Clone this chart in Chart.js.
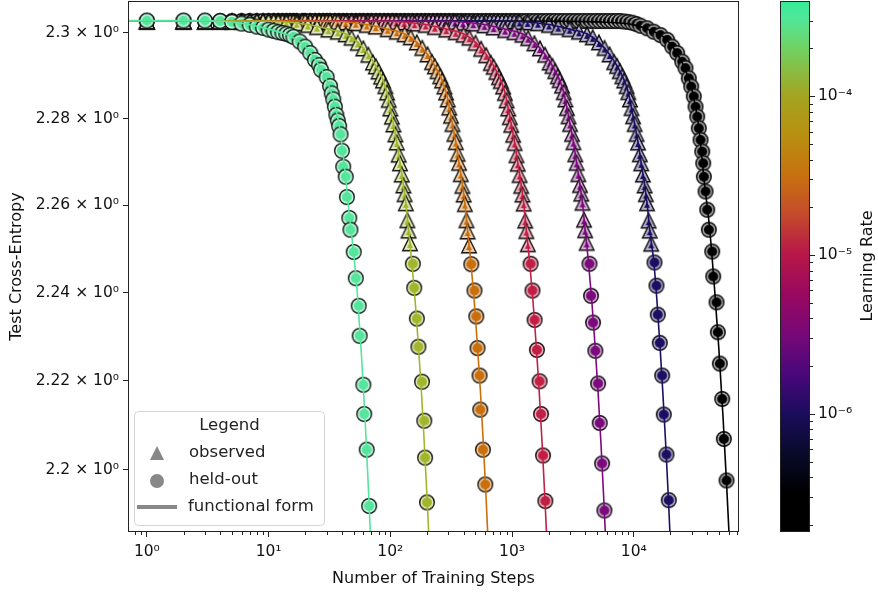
<!DOCTYPE html>
<html>
<head>
<meta charset="utf-8">
<title>Test cross-entropy vs training steps</title>
<script src="https://cdn.jsdelivr.net/npm/chart.js@4.4.1/dist/chart.umd.min.js"></script>
<style>
  html, body { margin: 0; padding: 0; background: #ffffff; }
  .stage { position: relative; width: 878px; height: 592px; }
  .stage canvas { position: absolute; top: 0; }
</style>
</head>
<body>
<div class="stage">
  <canvas class="js-chart" width="878" height="592" style="left:0"></canvas>
  <canvas class="js-colorbar" width="138" height="592" style="left:740px"></canvas>
</div>
<script>
// axes
const xTickValues = [1, 10, 100, 1000, 10000];
const xTickLabels = ['10⁰', '10¹', '10²', '10³', '10⁴'];
const xMinorTicks = [0.8, 0.9, 2, 3, 4, 5, 6, 7, 8, 9, 20, 30, 40, 50, 60, 70, 80, 90,
  200, 300, 400, 500, 600, 700, 800, 900, 2000, 3000, 4000, 5000, 6000, 7000, 8000, 9000,
  20000, 30000, 40000, 50000, 60000, 70000];
const yTickValues = [2.2, 2.22, 2.24, 2.26, 2.28, 2.3];
const yTickLabels = ['2.2 × 10⁰', '2.22 × 10⁰', '2.24 × 10⁰', '2.26 × 10⁰', '2.28 × 10⁰', '2.3 × 10⁰'];
const cbTickValues = [1e-6, 1e-5, 1e-4];
const cbTickLabels = ['10⁻⁶', '10⁻⁵', '10⁻⁴'];
const cbMinorTicks = [2e-7, 3e-7, 4e-7, 5e-7, 6e-7, 7e-7, 8e-7, 9e-7, 2e-6, 3e-6, 4e-6, 5e-6, 6e-6, 7e-6, 8e-6, 9e-6,
  2e-5, 3e-5, 4e-5, 5e-5, 6e-5, 7e-5, 8e-5, 9e-5, 2e-4, 3e-4];
const cbMin = 1.81e-7;
const cbMax = 3.98e-4;
const learningRates = [3.16e-4, 1e-4, 3.16e-5, 1e-5, 3.16e-6, 1e-6, 3.16e-7];

// lr 3.16e-4 (all held-out)
const greenHeldSteps = [1, 2, 3, 4, 5, 6, 7, 8, 9, 10, 11, 12, 13, 14, 15, 16, 18, 20, 22, 24, 26, 27, 30, 32, 33,
  34, 35, 36, 37, 38, 39, 40, 41, 43, 44, 46, 47, 50, 52, 55, 56, 60, 61, 64, 67];
const greenHeldLoss = [2.3029, 2.3029, 2.3029, 2.3028, 2.3026, 2.3022, 2.3019, 2.3015, 2.3012, 2.3008, 2.3005, 2.3002,
  2.3000, 2.2998, 2.2995, 2.2991, 2.2980, 2.2968, 2.2953, 2.2937, 2.2925, 2.2914, 2.2897, 2.2876, 2.2859,
  2.2845, 2.2828, 2.2809, 2.2796, 2.2783, 2.2764, 2.2726, 2.2689, 2.2666, 2.2619, 2.2571, 2.2544, 2.2493,
  2.2433, 2.2370, 2.2302, 2.2191, 2.2125, 2.2045, 2.1919];
const greenFitSteps = [0.5, 3, 6, 10, 15, 20, 25, 30, 34, 38, 42, 46, 50, 54, 58, 62, 66, 70];
const greenFitLoss = [2.3029, 2.3029, 2.3023, 2.3009, 2.2993, 2.2968, 2.2932, 2.2890, 2.2846, 2.2785, 2.2690,
  2.2580, 2.2490, 2.2385, 2.2255, 2.2115, 2.1960, 2.1800];

// lr 1e-4
const yellowObsSteps = [1, 2, 3, 4, 5, 6, 7, 8, 9, 10,
  11, 12, 14, 17, 21, 25, 31, 37, 43, 48,
  54, 60, 66, 72, 76, 80, 84, 87, 91, 94,
  97, 100, 103, 106, 110, 113, 117, 120, 124, 128,
  131, 134, 138, 141, 145];
const yellowObsLoss = [2.3028, 2.3028, 2.3028, 2.3028, 2.3028, 2.3028, 2.3028, 2.3028, 2.3028, 2.3028,
  2.3028, 2.3027, 2.3026, 2.3024, 2.3020, 2.3015, 2.3009, 2.3004, 2.2998, 2.2990,
  2.2978, 2.2965, 2.2950, 2.2932, 2.2923, 2.2911, 2.2899, 2.2890, 2.2877, 2.2862,
  2.2845, 2.2825, 2.2806, 2.2788, 2.2765, 2.2746, 2.2718, 2.2698, 2.2672, 2.2647,
  2.2627, 2.2606, 2.2567, 2.2543, 2.2514];
const yellowHeldSteps = [153, 157, 165, 170, 182, 190, 193, 200];
const yellowHeldLoss = [2.2466, 2.2411, 2.2341, 2.2277, 2.2198, 2.2110, 2.2027, 2.1927];
const yellowFitSteps = [0.5, 5, 12, 21, 31, 43, 54, 66, 76, 87, 94, 100, 106, 113, 120, 128, 134, 141, 150, 160,
  170, 180, 190, 200, 206, 214];
const yellowFitLoss = [2.3028, 2.3028, 2.3027, 2.3020, 2.3009, 2.2998, 2.2978, 2.2950, 2.2923, 2.2890, 2.2862,
  2.2825, 2.2788, 2.2746, 2.2698, 2.2647, 2.2606, 2.2543, 2.2470, 2.2380, 2.2280, 2.2175, 2.2060, 2.1940,
  2.1865, 2.1760];

// lr 3.16e-5
const orangeObsSteps = [1, 2, 3, 4, 5, 6, 7, 8, 9, 10,
  11, 12, 13, 14, 15, 16, 17, 19, 20, 22,
  24, 26, 28, 30, 32, 35, 37, 43, 52, 64,
  76, 95, 113, 131, 147, 165, 183, 202, 220, 232,
  244, 257, 266, 278, 287, 296, 305, 315, 324, 336,
  345, 357, 367, 379, 391, 400, 409, 422, 431, 443];
const orangeObsLoss = [2.3028, 2.3028, 2.3028, 2.3028, 2.3028, 2.3028, 2.3028, 2.3028, 2.3028, 2.3028,
  2.3028, 2.3028, 2.3028, 2.3028, 2.3028, 2.3028, 2.3028, 2.3028, 2.3028, 2.3028,
  2.3028, 2.3028, 2.3028, 2.3028, 2.3028, 2.3028, 2.3027, 2.3026, 2.3024, 2.3020,
  2.3016, 2.3010, 2.3004, 2.2998, 2.2991, 2.2979, 2.2966, 2.2951, 2.2933, 2.2923,
  2.2912, 2.2900, 2.2890, 2.2876, 2.2862, 2.2846, 2.2827, 2.2808, 2.2789, 2.2766,
  2.2747, 2.2720, 2.2699, 2.2673, 2.2646, 2.2626, 2.2604, 2.2567, 2.2541, 2.2509];
const orangeHeldSteps = [462, 491, 508, 520, 540, 548, 576, 602];
const orangeHeldLoss = [2.2465, 2.2405, 2.2346, 2.2274, 2.2212, 2.2135, 2.2045, 2.1967];
const orangeFitSteps = [0.5, 15, 37, 64, 95, 131, 165, 202, 232, 266, 287, 306, 324, 345, 367, 391, 409, 431, 458,
  489, 519, 550, 580, 611, 629, 654];
const orangeFitLoss = [2.3028, 2.3028, 2.3027, 2.3020, 2.3009, 2.2998, 2.2978, 2.2950, 2.2923, 2.2890, 2.2862,
  2.2825, 2.2788, 2.2746, 2.2698, 2.2647, 2.2606, 2.2543, 2.2470, 2.2380, 2.2280, 2.2175, 2.2060, 2.1940,
  2.1865, 2.1760];

// lr 1e-5
const redObsSteps = [1, 2, 3, 4, 5, 6, 7, 8, 9, 10,
  11, 12, 13, 14, 15, 16, 17, 19, 20, 22,
  24, 26, 28, 30, 32, 35, 38, 41, 44, 48,
  52, 56, 60, 65, 70, 76, 82, 89, 96, 104,
  112, 130, 158, 195, 232, 288, 344, 399, 446, 501,
  557, 613, 669, 706, 743, 780, 808, 845, 873, 901,
  929, 957, 984, 1021, 1049, 1086, 1114, 1152, 1189, 1217,
  1244, 1282, 1309, 1347];
const redObsLoss = [2.3028, 2.3028, 2.3028, 2.3028, 2.3028, 2.3028, 2.3028, 2.3028, 2.3028, 2.3028,
  2.3028, 2.3028, 2.3028, 2.3028, 2.3028, 2.3028, 2.3028, 2.3028, 2.3028, 2.3028,
  2.3028, 2.3028, 2.3028, 2.3028, 2.3028, 2.3028, 2.3028, 2.3028, 2.3028, 2.3028,
  2.3028, 2.3028, 2.3028, 2.3028, 2.3028, 2.3028, 2.3028, 2.3028, 2.3028, 2.3028,
  2.3027, 2.3026, 2.3023, 2.3020, 2.3015, 2.3009, 2.3003, 2.2997, 2.2990, 2.2978,
  2.2964, 2.2949, 2.2931, 2.2922, 2.2910, 2.2898, 2.2889, 2.2876, 2.2861, 2.2844,
  2.2825, 2.2805, 2.2787, 2.2764, 2.2745, 2.2717, 2.2697, 2.2671, 2.2646, 2.2626,
  2.2605, 2.2566, 2.2542, 2.2512];
const redHeldSteps = [1420, 1470, 1530, 1600, 1683, 1729, 1795, 1875];
const redHeldLoss = [2.2466, 2.2405, 2.2338, 2.2270, 2.2199, 2.2125, 2.2032, 2.1930];
const redFitSteps = [0.5, 46, 111, 195, 288, 399, 501, 613, 706, 808, 873, 929, 984, 1049, 1114, 1189, 1244, 1309,
  1393, 1486, 1579, 1671, 1764, 1857, 1913, 1987];
const redFitLoss = [2.3028, 2.3028, 2.3027, 2.3020, 2.3009, 2.2998, 2.2978, 2.2950, 2.2923, 2.2890, 2.2862,
  2.2825, 2.2788, 2.2746, 2.2698, 2.2647, 2.2606, 2.2543, 2.2470, 2.2380, 2.2280, 2.2175, 2.2060, 2.1940,
  2.1865, 2.1760];

// lr 3.16e-6
const purpleObsSteps = [1, 2, 3, 4, 5, 6, 7, 8, 9, 10,
  11, 12, 13, 14, 15, 16, 17, 19, 20, 22,
  24, 26, 28, 30, 32, 35, 38, 41, 44, 48,
  52, 56, 60, 65, 70, 76, 82, 89, 96, 104,
  112, 121, 131, 141, 152, 165, 178, 192, 207, 224,
  242, 261, 282, 305, 329, 339, 395, 480, 593, 706,
  876, 1045, 1215, 1356, 1525, 1695, 1865, 2034, 2147, 2260,
  2373, 2458, 2571, 2655, 2740, 2825, 2910, 2995, 3107, 3192,
  3305, 3390, 3503, 3616, 3701, 3785, 3899, 3983, 4096];
const purpleObsLoss = [2.3028, 2.3028, 2.3028, 2.3028, 2.3028, 2.3028, 2.3028, 2.3028, 2.3028, 2.3028,
  2.3028, 2.3028, 2.3028, 2.3028, 2.3028, 2.3028, 2.3028, 2.3028, 2.3028, 2.3028,
  2.3028, 2.3028, 2.3028, 2.3028, 2.3028, 2.3028, 2.3028, 2.3028, 2.3028, 2.3028,
  2.3028, 2.3028, 2.3028, 2.3028, 2.3028, 2.3028, 2.3028, 2.3028, 2.3028, 2.3028,
  2.3028, 2.3028, 2.3028, 2.3028, 2.3028, 2.3028, 2.3028, 2.3028, 2.3028, 2.3028,
  2.3028, 2.3028, 2.3028, 2.3028, 2.3028, 2.3027, 2.3025, 2.3023, 2.3019, 2.3014,
  2.3008, 2.3003, 2.2997, 2.2989, 2.2977, 2.2965, 2.2950, 2.2932, 2.2924, 2.2912,
  2.2900, 2.2891, 2.2878, 2.2863, 2.2846, 2.2826, 2.2807, 2.2789, 2.2766, 2.2747,
  2.2719, 2.2699, 2.2673, 2.2648, 2.2628, 2.2607, 2.2568, 2.2544, 2.2515];
const purpleHeldSteps = [4320, 4450, 4625, 4830, 5087, 5244, 5488, 5731];
const purpleHeldLoss = [2.2466, 2.2393, 2.2332, 2.2268, 2.2194, 2.2105, 2.2014, 2.1909];
const purpleFitSteps = [0.5, 141, 339, 593, 876, 1215, 1526, 1865, 2147, 2458, 2656, 2825, 2995, 3192, 3390, 3616,
  3786, 3983, 4238, 4520, 4803, 5085, 5368, 5650, 5820, 6046];
const purpleFitLoss = [2.3028, 2.3028, 2.3027, 2.3020, 2.3009, 2.2998, 2.2978, 2.2950, 2.2923, 2.2890, 2.2862,
  2.2825, 2.2788, 2.2746, 2.2698, 2.2647, 2.2606, 2.2543, 2.2470, 2.2380, 2.2280, 2.2175, 2.2060, 2.1940,
  2.1865, 2.1760];

// lr 1e-6
const navyObsSteps = [1, 2, 3, 4, 5, 6, 7, 8, 9, 10,
  11, 12, 13, 14, 15, 16, 17, 19, 20, 22,
  24, 26, 28, 30, 32, 35, 38, 41, 44, 48,
  52, 56, 60, 65, 70, 76, 82, 89, 96, 104,
  112, 121, 131, 141, 152, 165, 178, 192, 207, 224,
  242, 261, 282, 305, 329, 355, 384, 414, 447, 483,
  522, 563, 608, 657, 709, 766, 827, 893, 965, 1042,
  1125, 1151, 1341, 1629, 2011, 2395, 2969, 3544, 4120, 4598,
  5172, 5749, 6323, 6897, 7281, 7664, 8048, 8334, 8718, 9004,
  9292, 9581, 9867, 10155, 10537, 10825, 11207, 11495, 11880, 12262,
  12550, 12836, 13220, 13506, 13891];
const navyObsLoss = [2.3028, 2.3028, 2.3028, 2.3028, 2.3028, 2.3028, 2.3028, 2.3028, 2.3028, 2.3028,
  2.3028, 2.3028, 2.3028, 2.3028, 2.3028, 2.3028, 2.3028, 2.3028, 2.3028, 2.3028,
  2.3028, 2.3028, 2.3028, 2.3028, 2.3028, 2.3028, 2.3028, 2.3028, 2.3028, 2.3028,
  2.3028, 2.3028, 2.3028, 2.3028, 2.3028, 2.3028, 2.3028, 2.3028, 2.3028, 2.3028,
  2.3028, 2.3028, 2.3028, 2.3028, 2.3028, 2.3028, 2.3028, 2.3028, 2.3028, 2.3028,
  2.3028, 2.3028, 2.3028, 2.3028, 2.3028, 2.3028, 2.3028, 2.3028, 2.3028, 2.3028,
  2.3028, 2.3028, 2.3028, 2.3028, 2.3028, 2.3028, 2.3028, 2.3028, 2.3028, 2.3028,
  2.3028, 2.3027, 2.3026, 2.3024, 2.3020, 2.3015, 2.3010, 2.3004, 2.2998, 2.2991,
  2.2979, 2.2966, 2.2951, 2.2933, 2.2924, 2.2912, 2.2900, 2.2890, 2.2877, 2.2863,
  2.2846, 2.2826, 2.2807, 2.2789, 2.2766, 2.2746, 2.2719, 2.2698, 2.2672, 2.2647,
  2.2627, 2.2606, 2.2566, 2.2543, 2.2513];
const navyHeldSteps = [14772, 15345, 15727, 16332, 17087, 17618, 18541, 19364];
const navyHeldLoss = [2.2469, 2.2416, 2.2350, 2.2286, 2.2212, 2.2124, 2.2034, 2.1932];
const navyFitSteps = [0.5, 479, 1150, 2012, 2970, 4119, 5173, 6323, 7281, 8335, 9005, 9580, 10155, 10825, 11496,
  12262, 12837, 13508, 14600, 15500, 16400, 17300, 18250, 19200, 19750, 20500];
const navyFitLoss = [2.3028, 2.3028, 2.3027, 2.3020, 2.3009, 2.2998, 2.2978, 2.2950, 2.2923, 2.2890, 2.2862,
  2.2825, 2.2788, 2.2746, 2.2698, 2.2647, 2.2606, 2.2543, 2.2470, 2.2380, 2.2280, 2.2175, 2.2060, 2.1940,
  2.1865, 2.1760];

// lr 3.16e-7 (all held-out)
const blackHeldSteps = [1, 2, 3, 4, 5, 6, 7, 8, 9, 10,
  11, 12, 13, 14, 15, 16, 17, 19, 20, 22,
  24, 26, 28, 30, 32, 35, 38, 41, 44, 48,
  52, 56, 60, 65, 70, 76, 82, 89, 96, 104,
  112, 121, 131, 141, 152, 165, 178, 192, 207, 224,
  242, 261, 282, 305, 329, 355, 384, 414, 447, 483,
  522, 563, 608, 657, 709, 766, 827, 893, 965, 1042,
  1125, 1215, 1312, 1417, 1531, 1653, 1785, 1928, 2082, 2249,
  2429, 2623, 2833, 3060, 3305, 3569, 3855, 4163, 4496, 4856,
  5244, 5664, 6117, 6606, 7135, 7706, 8322, 8988, 9707, 10483,
  11322, 12865, 14578, 16554, 18792, 20654, 22708, 24963, 26567, 28286,
  29602, 31093, 32112, 33163, 34181, 35300, 36457, 37153, 37575, 38805,
  40076, 41305, 44055, 44896, 47785, 48975, 50859, 53229, 54862, 57734];
const blackHeldLoss = [2.3028, 2.3028, 2.3028, 2.3028, 2.3028, 2.3028, 2.3028, 2.3028, 2.3028, 2.3028,
  2.3028, 2.3028, 2.3028, 2.3028, 2.3028, 2.3028, 2.3028, 2.3028, 2.3028, 2.3028,
  2.3028, 2.3028, 2.3028, 2.3028, 2.3028, 2.3028, 2.3028, 2.3028, 2.3028, 2.3028,
  2.3028, 2.3028, 2.3028, 2.3028, 2.3028, 2.3028, 2.3028, 2.3028, 2.3028, 2.3028,
  2.3028, 2.3028, 2.3028, 2.3028, 2.3028, 2.3028, 2.3028, 2.3028, 2.3028, 2.3028,
  2.3028, 2.3028, 2.3028, 2.3028, 2.3028, 2.3028, 2.3028, 2.3028, 2.3028, 2.3028,
  2.3028, 2.3028, 2.3028, 2.3028, 2.3028, 2.3028, 2.3028, 2.3028, 2.3028, 2.3028,
  2.3028, 2.3028, 2.3028, 2.3028, 2.3028, 2.3028, 2.3028, 2.3028, 2.3028, 2.3028,
  2.3028, 2.3028, 2.3028, 2.3028, 2.3028, 2.3028, 2.3028, 2.3028, 2.3028, 2.3028,
  2.3028, 2.3028, 2.3028, 2.3028, 2.3028, 2.3028, 2.3027, 2.3026, 2.3024, 2.3021,
  2.3017, 2.3011, 2.3003, 2.2995, 2.2984, 2.2968, 2.2953, 2.2933, 2.2918, 2.2894,
  2.2875, 2.2852, 2.2828, 2.2805, 2.2778, 2.2751, 2.2724, 2.2697, 2.2666, 2.2632,
  2.2590, 2.2544, 2.2494, 2.2437, 2.2378, 2.2310, 2.2239, 2.2159, 2.2069, 2.1976];
const blackFitSteps = [0.5, 1000, 5000, 10000, 14000, 18000, 22000, 26000, 30000, 34000, 38000, 42000, 46000,
  50000, 54000, 58000, 62000];
const blackFitLoss = [2.3028, 2.3028, 2.3026, 2.3019, 2.3005, 2.2988, 2.2958, 2.2920, 2.2868, 2.2785, 2.2652,
  2.2545, 2.2410, 2.2270, 2.2120, 2.1960, 2.1800];

// styles
const curveColors = ['#55e59c', '#a2b62c', '#c96f0c', '#c21f44', '#7b0a7d', '#1b0f62', '#000000'];
const cmapStops = [
  [0.000, '#000000'], [0.073, '#000000'], [0.145, '#080a28'], [0.222, '#1a0c5c'], [0.296, '#48087a'],
  [0.373, '#780878'], [0.446, '#980860'], [0.525, '#b81848'], [0.597, '#c44a2c'], [0.670, '#c87010'],
  [0.748, '#b89010'], [0.821, '#a4a420'], [0.908, '#72d060'], [0.970, '#4ee89c'], [1.000, '#34ec96']
];

Chart.defaults.font.family = "'DejaVu Sans', sans-serif";
Chart.defaults.color = '#111';

const zip = (xs, ys) => xs.map((x, i) => ({ x, y: ys[i] }));

function makeMarker(shape, color) {
  const c = document.createElement('canvas');
  c.width = 22;
  c.height = 22;
  const g = c.getContext('2d');
  const cx = 11, cy = 11, s0 = 8.4;
  const path = (inset) => {
    g.beginPath();
    if (shape === 'circle') {
      g.arc(cx, cy, 8 - inset, 0, Math.PI * 2);
    } else {
      // inset measured from the incentre so the ring is even on all sides
      const iy = cy + 0.382 * s0, r0 = 0.618 * s0, k = (r0 - inset) / r0;
      [[0, -s0], [s0, s0], [-s0, s0]].forEach(([x, y], i) => {
        const px = cx + x * k, py = iy + (cy + y - iy) * k;
        i ? g.lineTo(px, py) : g.moveTo(px, py);
      });
      g.closePath();
    }
  };
  g.lineJoin = 'miter';
  path(0.6);
  g.fillStyle = color;
  g.fill();
  path(shape === 'circle' ? 2.15 : 2.3);
  g.strokeStyle = 'rgba(255,255,255,0.68)';
  g.lineWidth = shape === 'circle' ? 1.7 : 2.1;
  g.stroke();
  path(0.65);
  g.strokeStyle = '#111';
  g.lineWidth = 1.3;
  g.stroke();
  return c;
}

const curves = [
  { obsSteps: [], obsLoss: [], heldSteps: greenHeldSteps, heldLoss: greenHeldLoss, fitSteps: greenFitSteps, fitLoss: greenFitLoss },
  { obsSteps: yellowObsSteps, obsLoss: yellowObsLoss, heldSteps: yellowHeldSteps, heldLoss: yellowHeldLoss, fitSteps: yellowFitSteps, fitLoss: yellowFitLoss },
  { obsSteps: orangeObsSteps, obsLoss: orangeObsLoss, heldSteps: orangeHeldSteps, heldLoss: orangeHeldLoss, fitSteps: orangeFitSteps, fitLoss: orangeFitLoss },
  { obsSteps: redObsSteps, obsLoss: redObsLoss, heldSteps: redHeldSteps, heldLoss: redHeldLoss, fitSteps: redFitSteps, fitLoss: redFitLoss },
  { obsSteps: purpleObsSteps, obsLoss: purpleObsLoss, heldSteps: purpleHeldSteps, heldLoss: purpleHeldLoss, fitSteps: purpleFitSteps, fitLoss: purpleFitLoss },
  { obsSteps: navyObsSteps, obsLoss: navyObsLoss, heldSteps: navyHeldSteps, heldLoss: navyHeldLoss, fitSteps: navyFitSteps, fitLoss: navyFitLoss },
  { obsSteps: [], obsLoss: [], heldSteps: blackHeldSteps, heldLoss: blackHeldLoss, fitSteps: blackFitSteps, fitLoss: blackFitLoss }
];

// dataset 0 is painted last, so fits go first, then markers with the highest lr on top
const datasets = [];
curves.forEach((c, i) => {
  datasets.push({
    type: 'line',
    label: 'fit ' + learningRates[i],
    data: zip(c.fitSteps, c.fitLoss),
    borderColor: curveColors[i],
    borderWidth: 1.6,
    pointRadius: 0,
    fill: false,
    cubicInterpolationMode: 'monotone'
  });
});
curves.forEach((c, i) => {
  if (c.obsSteps.length) {
    datasets.push({
      label: 'observed ' + learningRates[i],
      data: zip(c.obsSteps, c.obsLoss),
      pointStyle: makeMarker('triangle', curveColors[i]),
      pointRadius: 8,
      showLine: false
    });
  }
  datasets.push({
    label: 'held-out ' + learningRates[i],
    data: zip(c.heldSteps, c.heldLoss),
    pointStyle: makeMarker('circle', curveColors[i]),
    pointRadius: 8,
    showLine: false
  });
});

// keep tick labels from pushing the plot box around
const noPad = s => { s.paddingTop = 0; s.paddingBottom = 0; s.paddingLeft = 0; s.paddingRight = 0; };

const framePlugin = {
  id: 'frame',
  afterDraw(chart) {
    const { ctx, chartArea: a } = chart;
    ctx.save();
    ctx.strokeStyle = '#222';
    ctx.lineWidth = 1;
    ctx.strokeRect(a.left + 0.5, a.top + 0.5, a.right - a.left - 1, a.bottom - a.top - 1);
    ctx.restore();
  }
};

const minorTickPlugin = {
  id: 'minorTicks',
  afterDraw(chart, args, opts) {
    const { ctx } = chart;
    const s = chart.scales[opts.axis];
    ctx.save();
    ctx.strokeStyle = '#222';
    ctx.lineWidth = 1;
    opts.values.forEach(v => {
      const p = Math.round(s.getPixelForValue(v)) + 0.5;
      ctx.beginPath();
      if (s.isHorizontal()) {
        ctx.moveTo(p, s.top);
        ctx.lineTo(p, s.top + opts.len);
      } else {
        ctx.moveTo(s.left, p);
        ctx.lineTo(s.left + opts.len, p);
      }
      ctx.stroke();
    });
    ctx.restore();
  }
};

const legendPlugin = {
  id: 'boxLegend',
  afterDraw(chart) {
    const { ctx } = chart;
    ctx.save();
    ctx.beginPath();
    ctx.roundRect(134.5, 411.5, 190, 114, 4);
    ctx.fillStyle = 'rgba(255,255,255,0.8)';
    ctx.fill();
    ctx.strokeStyle = '#d4d4d4';
    ctx.lineWidth = 1;
    ctx.stroke();

    ctx.fillStyle = '#222';
    ctx.font = "16.5px 'DejaVu Sans'";
    ctx.textBaseline = 'middle';
    ctx.textAlign = 'center';
    ctx.fillText('Legend', 229.5, 426);
    ctx.textAlign = 'left';
    ctx.fillText('observed', 189, 453);
    ctx.fillText('held-out', 189, 480);
    ctx.fillText('functional form', 188, 507);

    ctx.fillStyle = '#888';
    ctx.beginPath();
    ctx.moveTo(157, 446);
    ctx.lineTo(164, 460);
    ctx.lineTo(150, 460);
    ctx.closePath();
    ctx.fill();
    ctx.beginPath();
    ctx.arc(157, 481, 7, 0, Math.PI * 2);
    ctx.fill();
    ctx.strokeStyle = '#888';
    ctx.lineWidth = 4;
    ctx.beginPath();
    ctx.moveTo(137, 507);
    ctx.lineTo(177, 507);
    ctx.stroke();
    ctx.restore();
  }
};

new Chart(document.querySelector('.js-chart'), {
  type: 'scatter',
  data: { datasets },
  options: {
    responsive: false,
    animation: false,
    devicePixelRatio: 1,
    events: [],
    layout: { autoPadding: false, padding: { left: 0, right: 139, top: 1, bottom: 0 } },
    plugins: {
      legend: { display: false },
      tooltip: { enabled: false },
      minorTicks: { axis: 'x', values: xMinorTicks, len: 3 }
    },
    scales: {
      x: {
        type: 'logarithmic',
        min: 0.7,
        max: 73100,
        bounds: 'data',
        afterBuildTicks: s => { s.ticks = xTickValues.map(v => ({ value: v })); },
        afterFit: s => { s.height = 60; noPad(s); },
        grid: { drawOnChartArea: false, drawTicks: true, tickLength: 5, tickColor: '#222', tickWidth: 1 },
        border: { display: false },
        ticks: { autoSkip: false, maxRotation: 0, padding: 6, font: { size: 15.5 }, callback: (v, i) => xTickLabels[i] },
        title: { display: true, text: 'Number of Training Steps', font: { size: 16 }, padding: { top: 0, bottom: 4 } }
      },
      y: {
        type: 'logarithmic',
        min: 2.1861,
        max: 2.3075,
        bounds: 'data',
        afterBuildTicks: s => { s.ticks = yTickValues.map(v => ({ value: v })); },
        afterFit: s => { s.width = 128; noPad(s); },
        grid: { drawOnChartArea: false, drawTicks: true, tickLength: 5, tickColor: '#222', tickWidth: 1 },
        border: { display: false },
        ticks: { autoSkip: false, padding: 4, font: { size: 15.5 }, callback: (v, i) => yTickLabels[i] },
        title: { display: true, text: 'Test Cross-Entropy', font: { size: 16 }, padding: { top: 7, bottom: 0 } }
      }
    }
  },
  plugins: [minorTickPlugin, framePlugin, legendPlugin]
});

// colour bar
let barGradient = null;
function colorbarFill(context) {
  const area = context.chart.chartArea;
  if (!area) return '#000';
  if (!barGradient) {
    barGradient = context.chart.ctx.createLinearGradient(0, area.bottom, 0, area.top);
    cmapStops.forEach(([f, c]) => barGradient.addColorStop(f, c));
  }
  return barGradient;
}

const cbLabelPlugin = {
  id: 'cbLabel',
  afterDraw(chart) {
    const { ctx } = chart;
    ctx.save();
    ctx.translate(128, 266);
    ctx.rotate(-Math.PI / 2);
    ctx.fillStyle = '#111';
    ctx.font = "16px 'DejaVu Sans'";
    ctx.textAlign = 'center';
    ctx.textBaseline = 'middle';
    ctx.fillText('Learning Rate', 0, 0);
    ctx.restore();
  }
};

new Chart(document.querySelector('.js-colorbar'), {
  type: 'bar',
  data: {
    labels: ['learning rate'],
    datasets: [{
      data: [[cbMin, cbMax]],
      backgroundColor: colorbarFill,
      borderWidth: 0,
      barPercentage: 1,
      categoryPercentage: 1
    }]
  },
  options: {
    responsive: false,
    animation: false,
    devicePixelRatio: 1,
    events: [],
    layout: { autoPadding: false, padding: { left: 40, right: 0, top: 1, bottom: 60 } },
    plugins: {
      legend: { display: false },
      tooltip: { enabled: false },
      minorTicks: { axis: 'y', values: cbMinorTicks, len: 3 }
    },
    scales: {
      x: { display: false },
      y: {
        type: 'logarithmic',
        position: 'right',
        min: cbMin,
        max: cbMax,
        bounds: 'data',
        afterBuildTicks: s => { s.ticks = cbTickValues.map(v => ({ value: v })); },
        afterFit: s => { s.width = 68; noPad(s); },
        grid: { drawOnChartArea: false, drawTicks: true, tickLength: 5, tickColor: '#222', tickWidth: 1 },
        border: { display: false },
        ticks: { autoSkip: false, padding: 3, font: { size: 15.5 }, callback: (v, i) => cbTickLabels[i] }
      }
    }
  },
  plugins: [minorTickPlugin, framePlugin, cbLabelPlugin]
});
</script>
</body>
</html>
